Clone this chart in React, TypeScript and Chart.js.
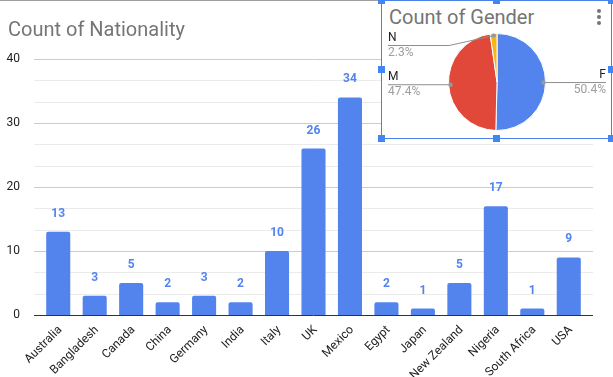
import React, { useEffect, useRef } from "react";
import { Chart, registerables } from "chart.js";

Chart.register(...registerables);

const categories = [
  "Australia", "Bangladesh", "Canada", "China", "Germany", "India", "Italy", "UK",
  "Mexico", "Egypt", "Japan", "New Zealand", "Nigeria", "South Africa", "USA",
];
const nationalityCounts = [13, 3, 5, 2, 3, 2, 10, 26, 34, 2, 1, 5, 17, 1, 9];
const yTickValues = [0, 10, 20, 30, 40];

const genderLabels = ["F", "M", "N"];
const genderCounts = [67, 63, 3];

const BLUE = "#5384ed";
const RED = "#e2483a";
const YELLOW = "#f5b617";
const FONT = "Roboto, 'Noto Sans', Arial, sans-serif";

const gridPlugin = {
  id: "sheetGrid",
  beforeDatasetsDraw(chart: any) {
    const { ctx, chartArea, scales } = chart;
    const y = scales.y;
    const left = chartArea.left - 6;
    const right = chartArea.right + 6;
    const maxV = yTickValues[yTickValues.length - 1];
    const step = (yTickValues[1] - yTickValues[0]) / 3;
    ctx.save();
    ctx.lineWidth = 1;
    for (let k = 1; k * step <= maxV + 1e-6; k++) {
      const py = Math.round(y.getPixelForValue(k * step)) + 0.5;
      ctx.strokeStyle = k % 3 === 0 ? "#cccccc" : "#ebebeb";
      ctx.beginPath();
      ctx.moveTo(left, py);
      ctx.lineTo(right, py);
      ctx.stroke();
    }
    ctx.restore();
  },
  afterDatasetsDraw(chart: any) {
    const { ctx, chartArea, scales } = chart;
    const py = Math.round(scales.y.getPixelForValue(0)) + 0.5;
    ctx.save();
    ctx.strokeStyle = "#333333";
    ctx.lineWidth = 1;
    ctx.beginPath();
    ctx.moveTo(chartArea.left - 6, py);
    ctx.lineTo(chartArea.right + 6, py);
    ctx.stroke();
    // value labels
    const meta = chart.getDatasetMeta(0);
    ctx.fillStyle = BLUE;
    ctx.font = `bold 12px ${FONT}`;
    ctx.textAlign = "center";
    ctx.textBaseline = "middle";
    meta.data.forEach((bar: any, i: number) => {
      ctx.fillText(String(nationalityCounts[i]), bar.x, bar.y - 18);
    });
    ctx.restore();
  },
};

const pieLabelPlugin = {
  id: "pieLabels",
  afterDraw(chart: any) {
    const { ctx } = chart;
    const meta = chart.getDatasetMeta(0);
    const total = genderCounts.reduce((a, b) => a + b, 0);
    const W = chart.width;
    ctx.save();
    meta.data.forEach((arc: any, i: number) => {
      const mid = (arc.startAngle + arc.endAngle) / 2;
      const r = arc.outerRadius - 2;
      const px = arc.x + r * Math.cos(mid);
      const py = arc.y + r * Math.sin(mid);
      const rightSide = Math.cos(mid) > 0;
      const lineY = Math.max(py, 44.5);
      const endX = rightSide ? W - 5 : 6;
      const elbowX = rightSide ? px + 10 : px - (lineY - py) * 4.5;
      ctx.strokeStyle = "#8e8e8e";
      ctx.lineWidth = 1;
      ctx.beginPath();
      ctx.moveTo(px, py);
      if (Math.abs(lineY - py) > 0.5) {
        ctx.lineTo(elbowX, lineY);
      }
      ctx.lineTo(endX, lineY);
      ctx.stroke();
      ctx.fillStyle = "#999999";
      ctx.beginPath();
      ctx.arc(px, py, 2.2, 0, Math.PI * 2);
      ctx.fill();
      ctx.textAlign = rightSide ? "right" : "left";
      ctx.textBaseline = "middle";
      ctx.font = `12px ${FONT}`;
      ctx.fillStyle = "#222222";
      ctx.fillText(genderLabels[i], endX, lineY - 8);
      ctx.fillStyle = "#9e9e9e";
      ctx.fillText(((genderCounts[i] / total) * 100).toFixed(1) + "%", endX, lineY + 7);
    });
    ctx.restore();
  },
};

function BarChart() {
  const ref = useRef<HTMLCanvasElement | null>(null);
  useEffect(() => {
    if (!ref.current) return;
    const chart = new Chart(ref.current, {
      type: "bar",
      data: {
        labels: categories,
        datasets: [
          {
            data: nationalityCounts,
            backgroundColor: BLUE,
            borderRadius: 2,
            borderSkipped: "bottom",
            categoryPercentage: 1,
            barPercentage: 0.66,
          },
        ],
      },
      options: {
        animation: false,
        responsive: false,
        maintainAspectRatio: false,
        devicePixelRatio: 1,
        layout: { padding: { top: 59, right: 26, left: 0, bottom: 0 } },
        plugins: {
          legend: { display: false },
          title: { display: false },
          tooltip: { enabled: false },
        },
        scales: {
          x: {
            grid: { display: false },
            border: { display: false },
            ticks: {
              autoSkip: false,
              maxRotation: 45,
              minRotation: 45,
              font: { family: FONT, size: 12 },
              color: "#222222",
              padding: 0,
              labelOffset: 2,
            },
            afterFit: (s: any) => {
              s.height = 62;
            },
          },
          y: {
            min: yTickValues[0],
            max: yTickValues[yTickValues.length - 1],
            afterBuildTicks: (s: any) => {
              s.ticks = yTickValues.map((v) => ({ value: v }));
            },
            grid: { display: false },
            border: { display: false },
            ticks: {
              font: { family: FONT, size: 12 },
              color: "#222222",
              padding: 12,
            },
            afterFit: (s: any) => {
              s.width = 40;
            },
          },
        },
      } as any,
      plugins: [gridPlugin],
    });
    return () => chart.destroy();
  }, []);
  return (
    <canvas
      ref={ref}
      width={613}
      height={377}
      style={{ position: "absolute", left: 0, top: 0, width: 613, height: 377 }}
    />
  );
}

function PieChart() {
  const ref = useRef<HTMLCanvasElement | null>(null);
  useEffect(() => {
    if (!ref.current) return;
    const chart = new Chart(ref.current, {
      type: "pie",
      data: {
        labels: genderLabels,
        datasets: [
          {
            data: genderCounts,
            backgroundColor: [BLUE, RED, YELLOW],
            borderColor: "#ffffff",
            borderWidth: 1,
          },
        ],
      },
      options: {
        animation: false,
        responsive: false,
        maintainAspectRatio: false,
        devicePixelRatio: 1,
        layout: { padding: { left: 66, right: 65, top: 32, bottom: 7 } },
        plugins: {
          legend: { display: false },
          tooltip: { enabled: false },
        },
      } as any,
      plugins: [pieLabelPlugin],
    });
    return () => chart.destroy();
  }, []);
  return (
    <canvas
      ref={ref}
      width={229}
      height={137}
      style={{ position: "absolute", left: 382, top: 1, width: 229, height: 137 }}
    />
  );
}

const handleStyle = (x: number, y: number): React.CSSProperties => ({
  position: "absolute",
  left: x - 3.5,
  top: y - 3.5,
  width: 7,
  height: 7,
  background: "#4285f4",
});

export default function App() {
  const bx0 = 381.5;
  const bx1 = 611.5;
  const by0 = 0.5;
  const by1 = 138.5;
  const bxm = (bx0 + bx1) / 2;
  const bym = (by0 + by1) / 2;
  return (
    <div
      style={{
        position: "absolute",
        left: 0,
        top: 0,
        width: 613,
        height: 377,
        overflow: "hidden",
        background: "#ffffff",
        fontFamily: FONT,
      }}
    >
      <BarChart />
      <div style={{ position: "absolute", left: 0, top: 0, width: 613, height: 1, background: "#9e9e9e" }} />
      <div
        style={{
          position: "absolute",
          left: 8,
          top: 17,
          fontSize: 20,
          lineHeight: "24px",
          color: "#757575",
          whiteSpace: "nowrap",
        }}
      >
        Count of Nationality
      </div>
      {/* embedded pie chart box */}
      <div
        style={{
          position: "absolute",
          left: 381,
          top: 0,
          width: 229,
          height: 137,
          border: "1px solid #4a80e8",
          background: "#ffffff",
        }}
      />
      <div
        style={{
          position: "absolute",
          left: 389,
          top: 5,
          fontSize: 20,
          lineHeight: "24px",
          color: "#757575",
          whiteSpace: "nowrap",
        }}
      >
        Count of Gender
      </div>
      {[10.7, 16.7, 22.7].map((y) => (
        <div
          key={y}
          style={{
            position: "absolute",
            left: 597,
            top: y - 2,
            width: 4,
            height: 4,
            borderRadius: 2,
            background: "#757575",
          }}
        />
      ))}
      <PieChart />
      {[
        [bx0, by0], [bxm, by0], [bx1, by0],
        [bx0, bym], [bx1, bym],
        [bx0, by1], [bxm, by1], [bx1, by1],
      ].map(([x, y], i) => (
        <div key={i} style={handleStyle(x, y)} />
      ))}
    </div>
  );
}
